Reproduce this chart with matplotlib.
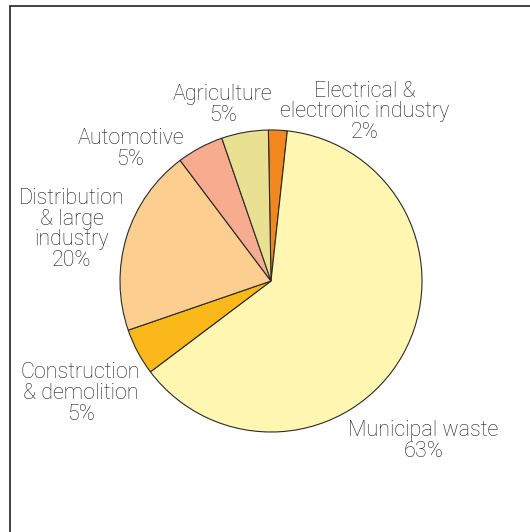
import matplotlib
matplotlib.use("Agg")
import matplotlib.pyplot as plt
from matplotlib.patches import Rectangle

# Waste sources (percent share)
sectors = ["Electrical &\nelectronic industry", "Municipal waste", "Construction\n& demolition",
           "Distribution\n& large\nindustry", "Automotive", "Agriculture"]
shares = [2, 63, 5, 20, 5, 5]
colors = ["#F2861F", "#FFF6B2", "#FBB81B", "#FCCF90", "#F8AC8F", "#E9E191"]

# label anchor positions in pie units (centre 0,0, radius 1)
label_x = [0.62, 1.01, -1.26, -1.32, -0.93, -0.32]
label_y = [1.12, -1.06, -0.745, 0.34, 0.875, 1.165]

W, H = 530, 532
cx, cy, r = 271, 281, 151

fig = plt.figure(figsize=(W / 100, H / 100), dpi=100)
ax = fig.add_axes([0, 0, 1, 1])

ax.pie(shares, colors=colors, startangle=91, counterclock=False,
       wedgeprops=dict(edgecolor="#2a2a2a", linewidth=0.8))

for name, val, lx, ly in zip(sectors, shares, label_x, label_y):
    ax.text(lx, ly, f"{name}\n{val}%", ha="center", va="center",
            fontsize=15.5, family="Roboto", fontweight="light",
            color="#1e1e1e", linespacing=0.98)

ax.set_xlim(-cx / r, (W - cx) / r)
ax.set_ylim((cy - H) / r, cy / r)
ax.set_aspect("auto")
ax.axis("off")

# frame open on the right and bottom
fig.patches.append(Rectangle((9.5 / W, -0.1), 1.2, (H - 5.5) / H + 0.1,
                             transform=fig.transFigure, fill=False,
                             edgecolor="#222222", linewidth=1.2))

fig.savefig("out.png", dpi=100)
